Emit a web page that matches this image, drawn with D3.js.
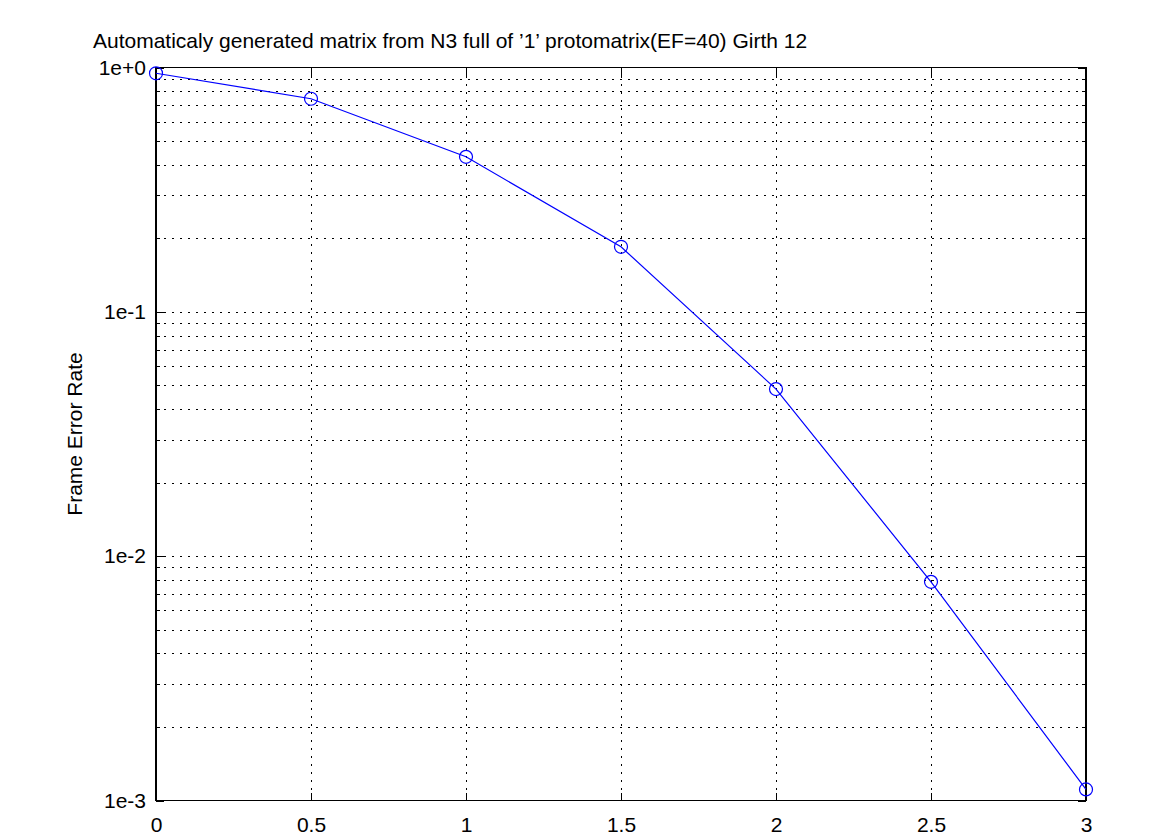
<!DOCTYPE html>
<html lang="en">
  <head>
    <title>FER</title>
    <meta charset="utf-8">
    <style>
      body { margin: 0; background: #fff; }
      text { font-family: "Liberation Sans", Arial, sans-serif; font-size: 21px; fill: #000; }
    </style>
  </head>
  <body>
<svg width="1175" height="835"></svg>
<script src="https://d3js.org/d3.v7.min.js"></script>
<script>

var snr = [0, 0.5, 1, 1.5, 2, 2.5, 3];
var fer = [0.947, 0.745, 0.431, 0.1846, 0.0483, 0.00785, 0.00111];
var xTicks = [0, 0.5, 1, 1.5, 2, 2.5, 3];
var yTicks = [1, 0.1, 0.01, 0.001];
var yTickLabels = ["1e+0", "1e-1", "1e-2", "1e-3"];
var title = "Automaticaly generated matrix from N3 full of \u20191\u2019 protomatrix(EF=40) Girth 12";
var yLabel = "Frame Error Rate";

var svg = d3.select("svg"),
    plotLeft = 156, plotRight = 1086, plotTop = 67.5, plotBottom = 800.5;

var x = d3.scaleLinear().domain([0, 3]).range([plotLeft, plotRight]);
var y = d3.scaleLog().domain([0.001, 1]).range([plotBottom, plotTop]);

// minor values 2..9 in each decade
var minor = [];
[0.001, 0.01, 0.1].forEach(function(d) {
  for (var k = 2; k <= 9; k++) minor.push(d * k);
});
var gridY = minor.concat([0.01, 0.1]);

var grid = svg.append("g")
    .attr("stroke", "#000")
    .attr("stroke-width", 1)
    .attr("stroke-dasharray", "2,6")
    .attr("shape-rendering", "crispEdges");

grid.selectAll(".gy").data(gridY).enter().append("line")
    .attr("x1", plotLeft).attr("x2", plotRight)
    .attr("y1", function(d) { return Math.round(y(d)) + 0.5; })
    .attr("y2", function(d) { return Math.round(y(d)) + 0.5; });

grid.selectAll(".gx").data(xTicks.slice(1, -1)).enter().append("line")
    .attr("y1", plotTop).attr("y2", plotBottom)
    .attr("x1", function(d) { return Math.round(x(d)) + 0.5; })
    .attr("x2", function(d) { return Math.round(x(d)) + 0.5; });

// axes box with inward ticks on all sides
var axes = svg.append("g").attr("shape-rendering", "crispEdges");

axes.append("g").attr("transform", "translate(0," + plotBottom + ")")
    .call(d3.axisBottom(x).tickValues(xTicks).tickSizeInner(-8).tickSizeOuter(0).tickPadding(17)
      .tickFormat(d3.format("")));
axes.append("g").attr("transform", "translate(0," + plotTop + ")")
    .call(d3.axisTop(x).tickValues(xTicks).tickSizeInner(-8).tickSizeOuter(0).tickFormat(""));
axes.append("g").attr("transform", "translate(" + plotLeft + ",0)")
    .call(d3.axisLeft(y).tickValues(yTicks).tickSizeInner(-8).tickSizeOuter(0).tickPadding(10)
      .tickFormat(function(d, i) { return yTickLabels[i]; }));
axes.append("g").attr("transform", "translate(" + plotRight + ",0)")
    .call(d3.axisRight(y).tickValues(yTicks).tickSizeInner(-8).tickSizeOuter(0).tickFormat(""));
axes.append("g").attr("transform", "translate(" + plotLeft + ",0)")
    .call(d3.axisLeft(y).tickValues(minor).tickSizeInner(-4).tickSizeOuter(0).tickFormat(""));
axes.append("g").attr("transform", "translate(" + plotRight + ",0)")
    .call(d3.axisRight(y).tickValues(minor).tickSizeInner(-4).tickSizeOuter(0).tickFormat(""));

axes.selectAll(".domain").remove();
axes.selectAll("text").attr("font-size", 21).attr("font-family", "Liberation Sans, Arial, sans-serif").attr("fill", "#000");

axes.append("rect")
    .attr("x", plotLeft).attr("y", plotTop)
    .attr("width", plotRight - plotLeft).attr("height", plotBottom - plotTop)
    .attr("fill", "none").attr("stroke", "#000").attr("stroke-width", 1.5);

// series
var pts = snr.map(function(d, i) { return [d, fer[i]]; });

svg.append("path")
    .datum(pts)
    .attr("fill", "none")
    .attr("stroke", "#0000ff")
    .attr("stroke-width", 1.2)
    .attr("d", d3.line().x(function(d) { return x(d[0]); }).y(function(d) { return y(d[1]); }));

svg.selectAll(".pt").data(pts).enter().append("circle")
    .attr("cx", function(d) { return x(d[0]); })
    .attr("cy", function(d) { return y(d[1]); })
    .attr("r", 6.5)
    .attr("fill", "none")
    .attr("stroke", "#0000ff")
    .attr("stroke-width", 1.2);

svg.append("text")
    .attr("x", 93).attr("y", 48)
    .text(title);

svg.append("text")
    .attr("transform", "translate(82," + ((plotTop + plotBottom) / 2) + ") rotate(-90)")
    .attr("text-anchor", "middle")
    .attr("font-size", 20)
    .text(yLabel);

</script>
  </body>
</html>
